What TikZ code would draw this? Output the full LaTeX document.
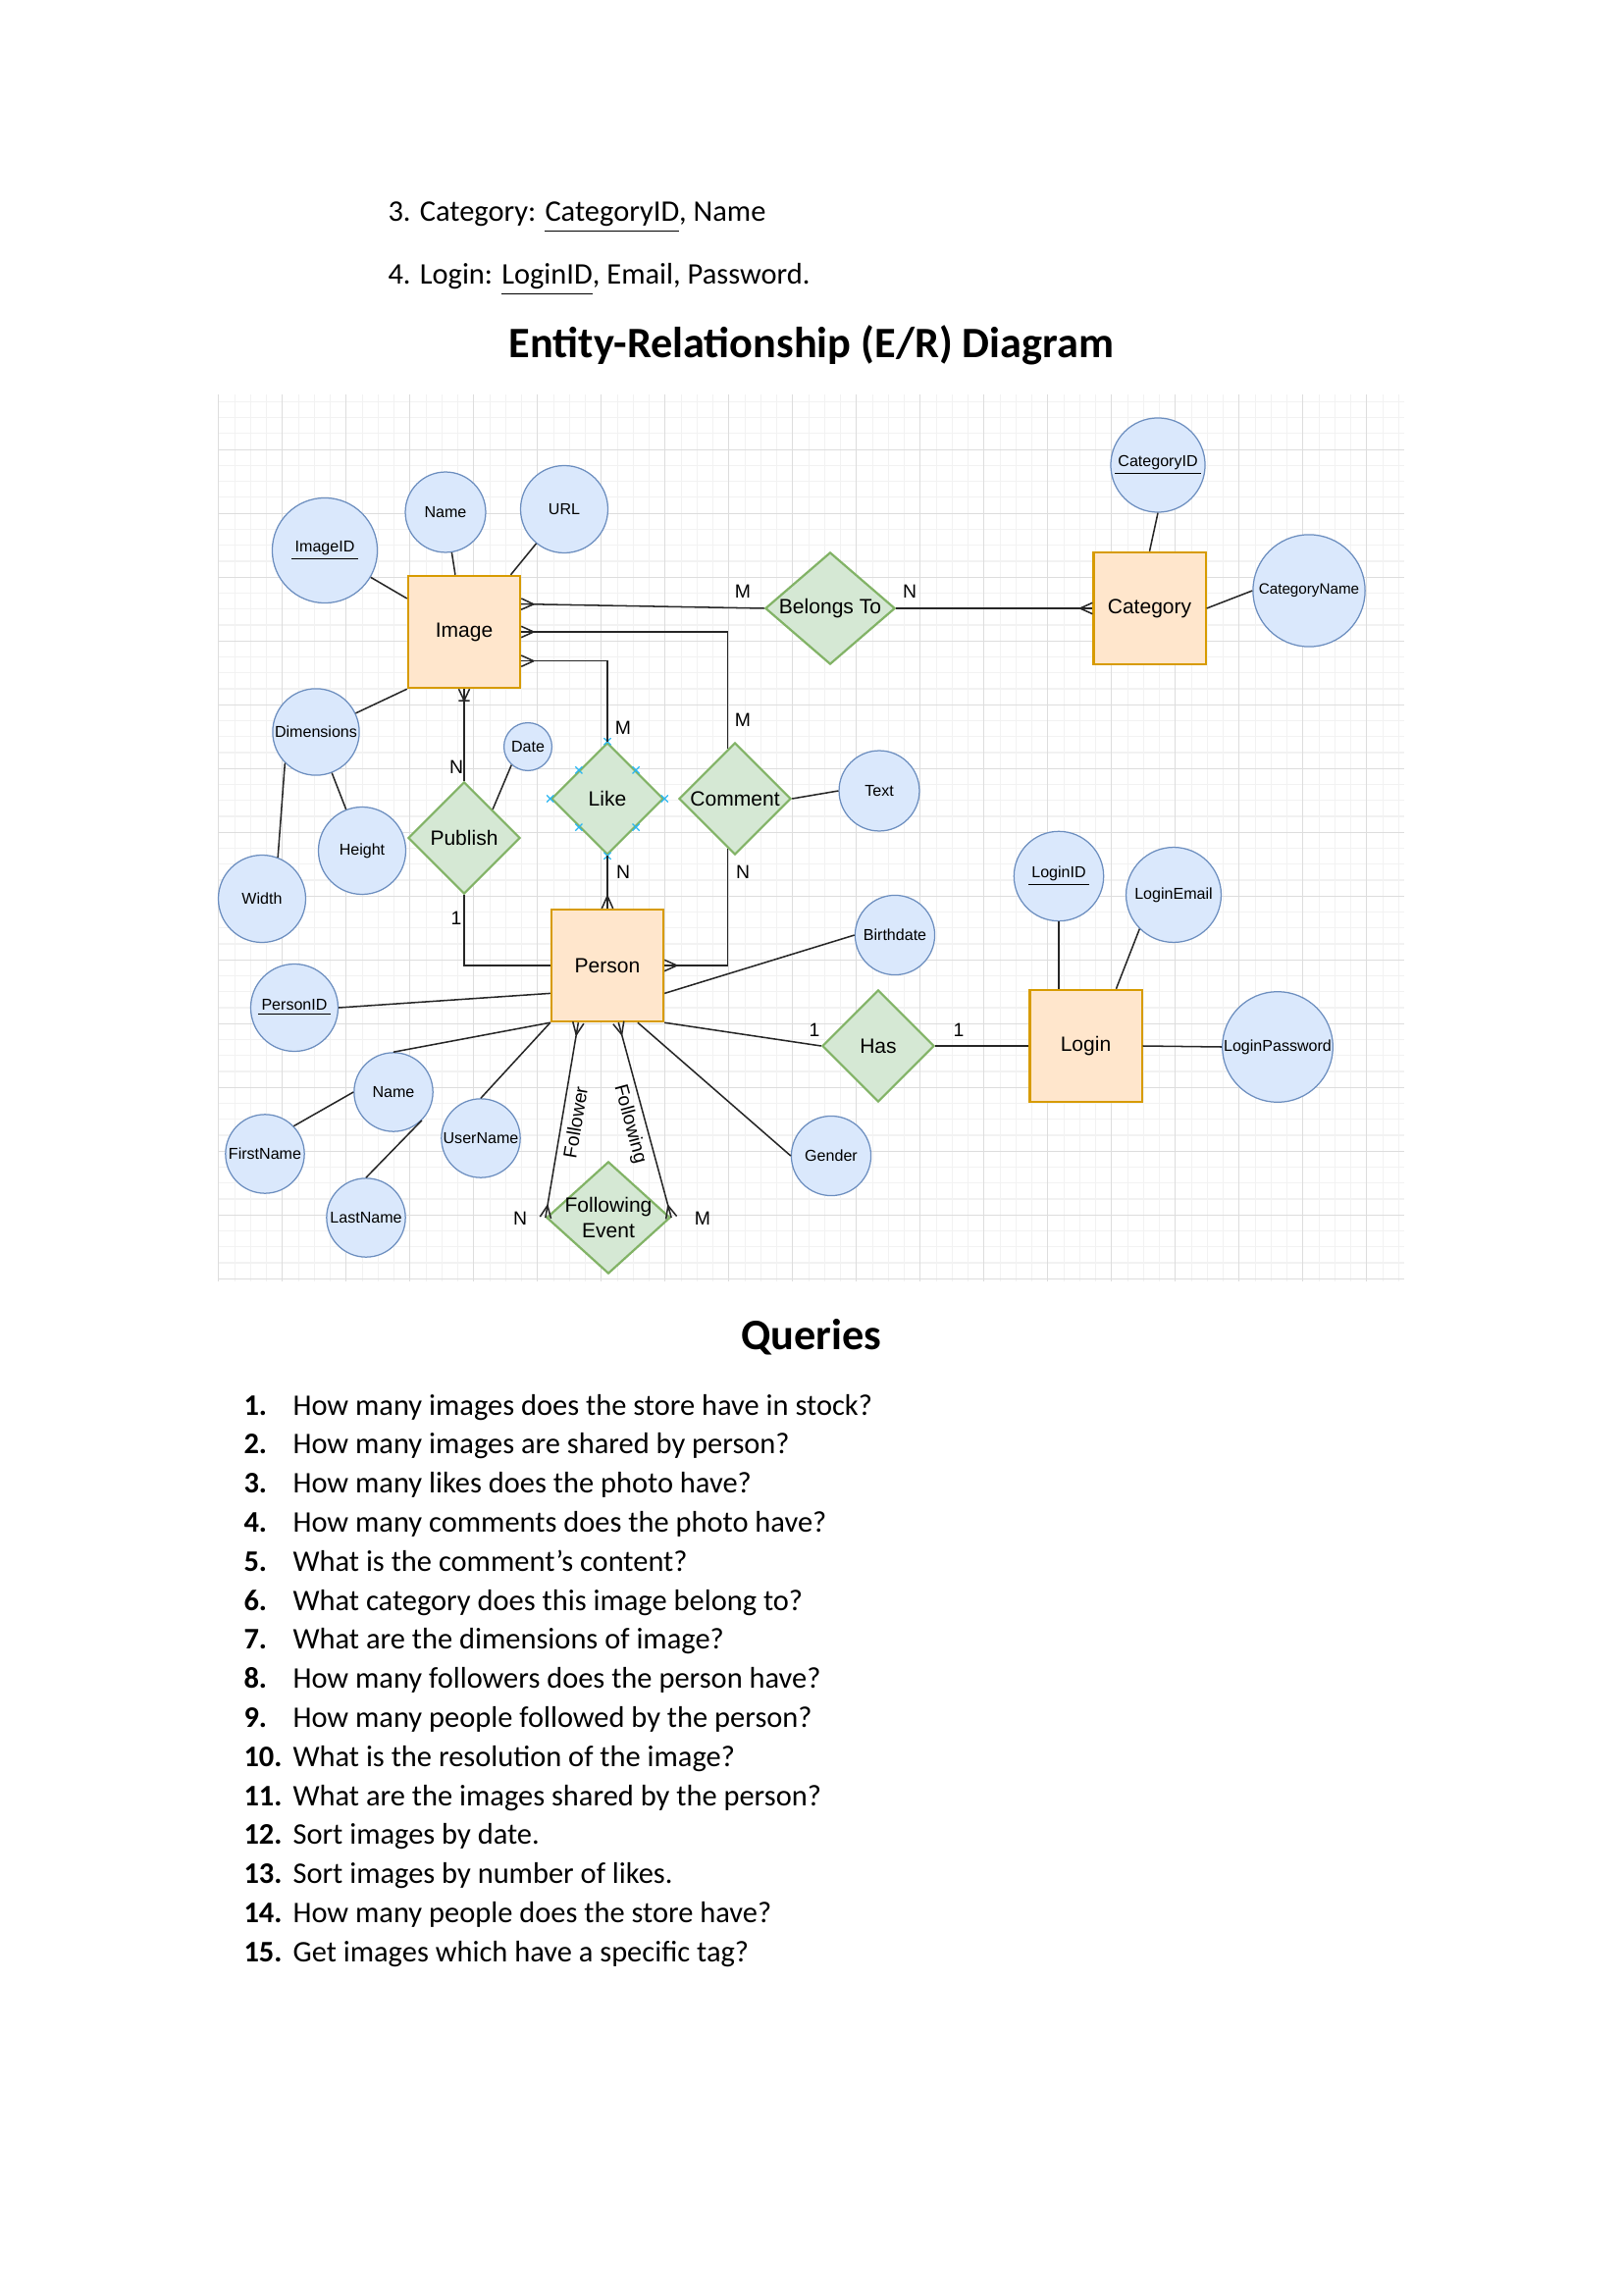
\documentclass[tikz,border=0pt]{standalone}
\usepackage{fontspec}
\setmainfont{Carlito}
\newfontfamily\drawfont{Liberation Sans}
\usepackage{tikz}
\usetikzlibrary{shapes.geometric}
\usetikzlibrary{shapes.misc}
\usetikzlibrary{decorations.markings}
\definecolor{entfill}{HTML}{FFE6CC}
\definecolor{entdraw}{HTML}{D79B00}
\definecolor{relfill}{HTML}{D5E8D4}
\definecolor{reldraw}{HTML}{82B366}
\definecolor{attfill}{HTML}{DAE8FC}
\definecolor{attdraw}{HTML}{6C8EBF}
\definecolor{handle}{HTML}{29B6F2}
\definecolor{gridminor}{HTML}{F2F2F2}
\definecolor{gridmajor}{HTML}{DDDDDD}
\newcommand{\pk}[1]{\underline{\hspace{1.2pt}#1\hspace{1.2pt}}}
\tikzset{
    entity/.style = {rectangle, draw=entdraw, fill=entfill, line width=0.8pt, minimum width=14.5mm, minimum height=14.5mm, inner sep=0pt, font=\drawfont\fontsize{7.6}{9.2}\selectfont},
    rel/.style = {diamond, draw=reldraw, fill=relfill, line width=0.8pt, minimum width=14.5mm, minimum height=14.5mm, inner sep=0pt, label={[align=center, font=\drawfont\fontsize{7.6}{9.2}\selectfont]center:#1}},
    attr/.style = {circle, draw=attdraw, fill=attfill, line width=0.45pt, inner sep=0pt, minimum size=#1, font=\drawfont\fontsize{5.8}{7}\selectfont},
    link/.style = {draw=black!85, line width=0.55pt},
    card/.style = {font=\drawfont\fontsize{7}{8}\selectfont, inner sep=0pt},
    handlemark/.style = {cross out, draw=handle, line width=0.45pt, minimum size=0.75mm, inner sep=0pt},
    crowstart/.style = {postaction={decorate, decoration={markings, mark=at position 0 with {\draw[link] (1.6mm,0) -- (0,0.72mm) (1.6mm,0) -- (0,-0.72mm);}}}},
    crowend/.style = {postaction={decorate, decoration={markings, mark=at position 1 with {\draw[link] (-1.6mm,0) -- (0,0.72mm) (-1.6mm,0) -- (0,-0.72mm);}}}},
    onemanystart/.style = {postaction={decorate, decoration={markings, mark=at position 0 with {\draw[link] (1.5mm,0) -- (0,0.7mm) (1.5mm,0) -- (0,-0.7mm) (1.5mm,0.7mm) -- (1.5mm,-0.7mm);}}}},
    body/.style = {font=\fontsize{11}{13.4}\selectfont, inner sep=0pt, anchor=base west},
    heading/.style = {font=\bfseries\fontsize{16}{19}\selectfont, inner sep=0pt, anchor=base},
}
\begin{document}
\begin{tikzpicture}[x=0.012697cm, y=-0.012697cm]
\useasboundingbox (0,0) rectangle (1654,2339);
% text above the diagram
\node[body] (catline) at (395,226) {3. Category: \underline{CategoryID}, Name};
\node[body] (loginline) at (395,290) {4. Login: \underline{LoginID}, Email, Password.};
\node[heading] (title) at (827,365) {Entity-Relationship (E/R) Diagram};
%
% grid
\foreach \k in {0,...,74}
    \draw[gridminor, line width=0.4pt] ({222.8+16.25*\k},402) -- ({222.8+16.25*\k},1306);
\foreach \k in {1,...,56}
    \draw[gridminor, line width=0.4pt] (222.8,{393.2+16.25*\k}) -- (1431,{393.2+16.25*\k});
\foreach \k in {0,4,...,72}
    \draw[gridmajor, line width=0.45pt] ({222.8+16.25*\k},402) -- ({222.8+16.25*\k},1306);
\foreach \k in {4,8,...,56}
    \draw[gridmajor, line width=0.45pt] (222.8,{393.2+16.25*\k}) -- (1431,{393.2+16.25*\k});
%
% entities
\node[entity] (img) at (473,644) {Image};
\node[entity] (cat) at (1171.5,620) {Category};
\node[entity] (person) at (619,984) {Person};
\node[entity] (login) at (1106.5,1066) {Login};
%
% relationships
\node[rel={Belongs To}, minimum width=16.8mm] (belongs) at (846,620) {};
\node[rel={Publish}] (publish) at (473,854) {};
\node[rel={Like}] (like) at (619,814) {};
\node[rel={Comment}] (comment) at (749,814) {};
\node[rel={Has}] (has) at (895,1066) {};
\node[rel={Following\\Event}, minimum width=16mm] (fevent) at (620,1241) {};
\foreach \a [count=\i] in {north,south,east,west,north east,north west,south east,south west}
    \node[handlemark] (likemark\i) at (like.\a) {};
\coordinate (comtop) at ([shift={(-7.6,7.6)}]comment.north);
\coordinate (combot) at ([shift={(-7.6,-7.6)}]comment.south);
%
% attributes
\node[attr=13.6mm] (imgid) at (331,561) {\pk{ImageID}};
\node[attr=10.4mm] (imgname) at (454,522) {Name};
\node[attr=11.3mm] (url) at (575,519) {URL};
\node[attr=11.2mm] (dimen) at (322,746) {Dimensions};
\node[attr=6.2mm] (date) at (538,761) {Date};
\node[attr=11.3mm] (height) at (369,867) {Height};
\node[attr=11.3mm] (width) at (267,916) {Width};
\node[attr=10.4mm] (text) at (896,806) {Text};
\node[attr=12.2mm] (catid) at (1180,474) {\pk{CategoryID}};
\node[attr=14.5mm, font=\drawfont\fontsize{5.5}{7}\selectfont] (catname) at (1334,602) {CategoryName};
\node[attr=10.3mm] (birth) at (912,953) {Birthdate};
\node[attr=11.3mm] (pid) at (300,1027) {\pk{PersonID}};
\node[attr=10.2mm] (pname) at (401,1113) {Name};
\node[attr=10.2mm] (fname) at (270,1176) {FirstName};
\node[attr=10.2mm] (lname) at (373,1241) {LastName};
\node[attr=10.2mm] (uname) at (490,1160) {UserName};
\node[attr=10.3mm] (gender) at (847,1178) {Gender};
\node[attr=11.6mm] (loginid) at (1079,893) {\pk{LoginID}};
\node[attr=12.3mm] (lemail) at (1196,912) {LoginEmail};
\node[attr=14.3mm] (lpass) at (1302,1067) {LoginPassword};
%
% attribute links
\draw[link] (imgid) -- (img);
\draw[link] (imgname) -- (img);
\draw[link] (url) -- (img);
\draw[link] (dimen) -- (img.south west);
\draw[link] (dimen) -- (height);
\draw[link] (dimen.225) -- (width.69);
\draw[link] (date.228) -- (publish.north east);
\draw[link] (text.west) -- (comment.east);
\draw[link] (catid.south) -- (cat.north);
\draw[link] (catname.west) -- (cat.east);
\draw[link] (person.-26) -- (birth.west);
\draw[link] (pid.east) -- (person.206);
\draw[link] (person.south west) -- (pname.north);
\draw[link] (pname.west) -- (fname.44);
\draw[link] (pname.-45) -- (lname.north);
\draw[link] (person.south west) -- (uname.north);
\draw[link] (person.-62) -- (gender.west);
\draw[link] (loginid.south) -- (loginid.south |- login.north);
\draw[link] (lemail.225) -- (login.62);
\draw[link] (login.east) -- (lpass.west);
%
% relationship links
\draw[link, crowstart] (img.26) -- (belongs.west);
\draw[link, crowend] (belongs.east) -- (cat.west);
\draw[link, crowstart] (img.east) -| (comtop);
\draw[link, crowend] (combot) |- (person.east);
\draw[link, crowstart] (img.-27) -| (like.north);
\draw[link, crowend] (like.south) -- (person.north);
\draw[link, onemanystart] (img.south) -- (publish.north);
\draw[link] (publish.south) |- (person.west);
\draw[link] (person.south east) -- (has.west);
\draw[link] (has.east) -- (login.west);
\draw[link, crowstart, crowend] (person.243) -- node[card, sloped, below=2.2pt, midway] {Follower} (fevent.west);
\draw[link, crowstart, crowend] (person.-79) -- node[card, sloped, below=2.2pt, midway] {Following} (fevent.east);
%
% cardinalities
\node[card] (cbelm) at (757,603) {M};
\node[card] (cbeln) at (927,603) {N};
\node[card] (clikem) at (635,742) {M};
\node[card] (cliken) at (635,889) {N};
\node[card] (ccomm) at (757,734) {M};
\node[card] (ccomn) at (757,889) {N};
\node[card] (cpubn) at (465,782) {N};
\node[card] (cpub1) at (465,936) {1};
\node[card] (chasl) at (830,1050) {1};
\node[card] (chasr) at (977,1050) {1};
\node[card] (cfevn) at (530,1242) {N};
\node[card] (cfevm) at (716,1242) {M};
%
% queries
\node[heading] (queries) at (827,1375) {Queries};
\foreach \q [count=\i] in {How many images does the store have in stock?,
    How many images are shared by person?,
    How many likes does the photo have?,
    How many comments does the photo have?,
    What is the comment’s content?,
    What category does this image belong to?,
    What are the dimensions of image?,
    How many followers does the person have?,
    How many people followed by the person?,
    What is the resolution of the image?,
    What are the images shared by the person?,
    Sort images by date.,
    Sort images by number of likes.,
    How many people does the store have?,
    Get images which have a specific tag?}
{
    \node[body, font=\bfseries\fontsize{11}{13.4}\selectfont] (qnum\i) at (248,{1442+39.8*(\i-1)}) {\i.};
    \node[body] (query\i) at (298,{1442+39.8*(\i-1)}) {\q};
}
\end{tikzpicture}
\end{document}
